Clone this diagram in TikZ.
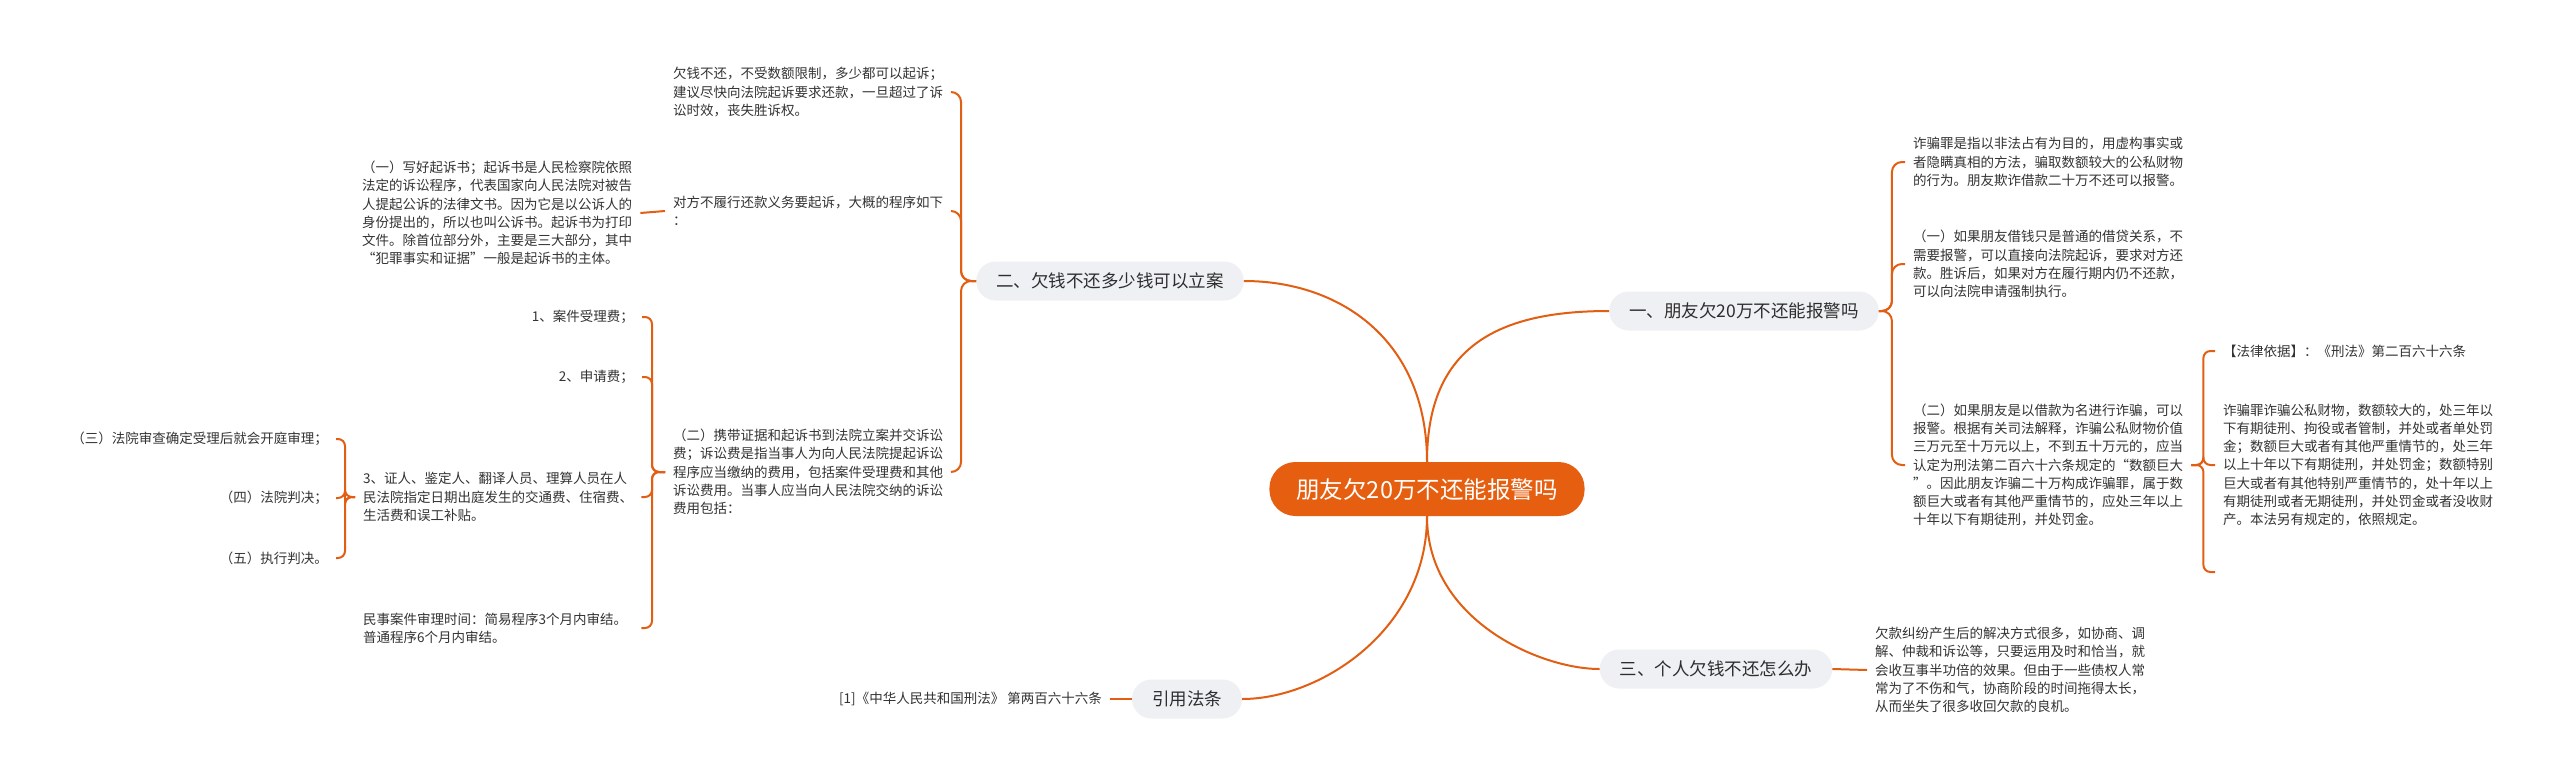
\documentclass[tikz,border=0pt]{standalone}
\usepackage{fontspec}
\setmainfont{Noto Sans CJK SC}
\newfontfamily\fwfont[CharacterWidth=Full]{Noto Sans CJK SC}
\newcommand\qL{{\fwfont “}}
\newcommand\qR{{\fwfont ”}}
\definecolor{linec}{RGB}{226,94,18}
\definecolor{rootc}{RGB}{230,95,16}
\definecolor{branchc}{RGB}{238,240,243}
\definecolor{textc}{RGB}{45,45,45}
\definecolor{leafc}{RGB}{51,51,51}
\begin{document}
\begin{tikzpicture}[x=1pt,y=-1pt,
  rootnode/.style={fill=rootc, text=white, rounded corners=26pt, minimum height=54pt,
    inner xsep=27pt, inner ysep=0pt, font=\fontsize{23.5}{28}\selectfont},
  branchnode/.style={fill=branchc, text=textc, rounded corners=19.5pt, minimum height=39pt,
    inner xsep=20pt, inner ysep=0pt, font=\fontsize{17.5}{21}\selectfont},
  leaf/.style={text=leafc, inner xsep=8pt, inner ysep=2pt, align=left,
    font=\fontsize{13.5}{18.3}\selectfont},
  block/.style={leaf, text width=270pt},
  curve/.style={draw=linec, line width=2pt},
  link/.style={draw=linec, line width=2pt, rounded corners=7pt},
  biglink/.style={link, rounded corners=10pt}]
\fill[white] (0,0) rectangle (2560,779);
\useasboundingbox (0,0) rectangle (2560,779);

% root and branches
\node[rootnode] (root) at (1427,489) {朋友欠20万不还能报警吗};
\node[branchnode] (b1) at (1744,311) {一、朋友欠20万不还能报警吗};
\node[branchnode] (b2) at (1110,281) {二、欠钱不还多少钱可以立案};
\node[branchnode] (b3) at (1716,669) {三、个人欠钱不还怎么办};
\node[branchnode] (b4) at (1187,699) {引用法条};

% left side leaves
\node[block, anchor=west] (a1) at (665,92) {欠钱不还，不受数额限制，多少都可以起诉；\\建议尽快向法院起诉要求还款，一旦超过了诉\\讼时效，丧失胜诉权。};
\node[block, anchor=west] (a2) at (665,211) {对方不履行还款义务要起诉，大概的程序如下\\：};
\node[block, anchor=west] (a3) at (665,472) {（二）携带证据和起诉书到法院立案并交诉讼\\费；诉讼费是指当事人为向人民法院提起诉讼\\程序应当缴纳的费用，包括案件受理费和其他\\诉讼费用。当事人应当向人民法院交纳的诉讼\\费用包括：};
\node[block, anchor=west] (bb1) at (354,213) {（一）写好起诉书；起诉书是人民检察院依照\\法定的诉讼程序，代表国家向人民法院对被告\\人提起公诉的法律文书。因为它是以公诉人的\\身份提出的，所以也叫公诉书。起诉书为打印\\文件。除首位部分外，主要是三大部分，其中\\\qL 犯罪事实和证据\qR 一般是起诉书的主体。};
\node[leaf, anchor=east] (c1) at (642,317) {1、案件受理费；};
\node[leaf, anchor=east] (c2) at (642,377) {2、申请费；};
\node[block, anchor=west] (c3) at (355,497) {3、证人、鉴定人、翻译人员、理算人员在人\\民法院指定日期出庭发生的交通费、住宿费、\\生活费和误工补贴。};
\node[block, anchor=west] (c4) at (355,628) {民事案件审理时间：简易程序3个月内审结。\\普通程序6个月内审结。};
\node[leaf, anchor=east] (d1) at (336,439) {（三）法院审查确定受理后就会开庭审理；};
\node[leaf, anchor=east] (d2) at (336,498) {（四）法院判决；};
\node[leaf, anchor=east] (d3) at (336,558) {（五）执行判决。};

% right side leaves
\node[block, anchor=west] (e1) at (1905,162) {诈骗罪是指以非法占有为目的，用虚构事实或\\者隐瞒真相的方法，骗取数额较大的公私财物\\的行为。朋友欺诈借款二十万不还可以报警。};
\node[block, anchor=west] (e2) at (1905,264) {（一）如果朋友借钱只是普通的借贷关系，不\\需要报警，可以直接向法院起诉，要求对方还\\款。胜诉后，如果对方在履行期内仍不还款，\\可以向法院申请强制执行。};
\node[block, anchor=west] (e3) at (1905,465) {（二）如果朋友是以借款为名进行诈骗，可以\\报警。根据有关司法解释，诈骗公私财物价值\\三万元至十万元以上，不到五十万元的，应当\\认定为刑法第二百六十六条规定的\qL 数额巨大\\\qR 。因此朋友诈骗二十万构成诈骗罪，属于数\\额巨大或者有其他严重情节的，应处三年以上\\十年以下有期徒刑，并处罚金。};
\node[leaf, anchor=west] (f1) at (2215,351) {【法律依据】：《刑法》第二百六十六条};
\node[block, anchor=west] (f2) at (2215,465) {诈骗罪诈骗公私财物，数额较大的，处三年以\\下有期徒刑、拘役或者管制，并处或者单处罚\\金；数额巨大或者有其他严重情节的，处三年\\以上十年以下有期徒刑，并处罚金；数额特别\\巨大或者有其他特别严重情节的，处十年以上\\有期徒刑或者无期徒刑，并处罚金或者没收财\\产。本法另有规定的，依照规定。};
\coordinate (f3) at (2215,572);
\node[block, anchor=west] (g1) at (1867,670) {欠款纠纷产生后的解决方式很多，如协商、调\\解、仲裁和诉讼等，只要运用及时和恰当，就\\会收互事半功倍的效果。但由于一些债权人常\\常为了不伤和气，协商阶段的时间拖得太长，\\从而坐失了很多收回欠款的良机。};
\node[leaf, anchor=east] (h1) at (1110,699) {[1]《中华人民共和国刑法》 第两百六十六条};

% root connectors
\draw[curve] (root.north) .. controls (1427,345) and (1500,311) .. (b1.west);
\draw[curve] (root.north) .. controls (1427,340) and (1340,281) .. (b2.east);
\draw[curve] (root.south) .. controls (1427,620) and (1540,669) .. (b3.west);
\draw[curve] (root.south) .. controls (1427,630) and (1320,699) .. (b4.east);

% branch 2
\draw[biglink] (b2.west) -- ++(-15,0) |- (a1.east);
\draw[biglink] (b2.west) -- ++(-15,0) |- (a2.east);
\draw[biglink] (b2.west) -- ++(-15,0) |- (a3.east);
\draw[link] (a2.west) -- (bb1.east);
\draw[link] (a3.west) -- ++(-13,0) |- (c1.east);
\draw[link] (a3.west) -- ++(-13,0) |- (c2.east);
\draw[link] (a3.west) -- ++(-13,0) |- (c3.east);
\draw[link] (a3.west) -- ++(-13,0) |- (c4.east);
\draw[link] (c3.west) -- ++(-10,0) |- (d1.east);
\draw[link] (c3.west) -- ++(-10,0) |- (d2.east);
\draw[link] (c3.west) -- ++(-10,0) |- (d3.east);

% branch 1
\draw[biglink] (b1.east) -- ++(13,0) |- (e1.west);
\draw[biglink] (b1.east) -- ++(13,0) |- (e2.west);
\draw[biglink] (b1.east) -- ++(13,0) |- (e3.west);
\draw[link] (e3.east) -- ++(12,0) |- (f1.west);
\draw[link] (e3.east) -- ++(12,0) |- (f2.west);
\draw[link] (e3.east) -- ++(12,0) |- (f3);

% branches 3 and 4
\draw[link] (b3.east) -- (g1.west);
\draw[link] (b4.west) -- (h1.east);
\end{tikzpicture}
\end{document}
